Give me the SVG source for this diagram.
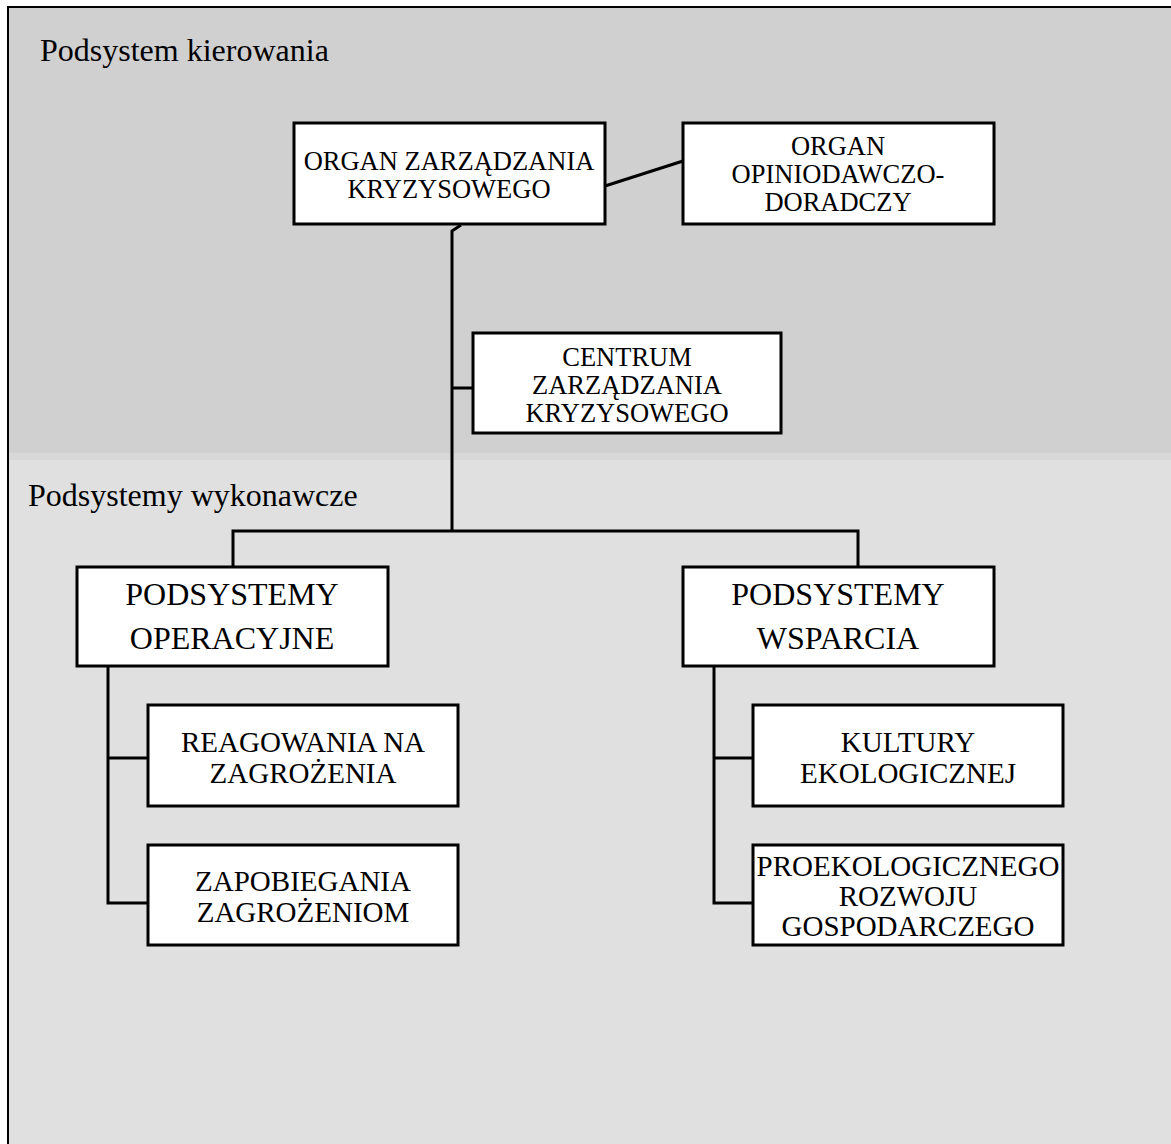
<svg xmlns="http://www.w3.org/2000/svg" width="1171" height="1144" viewBox="0 0 1171 1144">
  <style>
    .box { fill: #ffffff; stroke: #000000; stroke-width: 3; }
    .wire { fill: none; stroke: #000000; stroke-width: 3; }
    .lbl { font-family: "Liberation Serif", "Times New Roman", serif; fill: #000000; text-anchor: middle; }
    .s { font-size: 26.5px; }
    .m { font-size: 29px; }
    .l { font-size: 32px; }
    .sect { font-family: "Liberation Serif", "Times New Roman", serif; font-size: 32px; fill: #000000; }
  </style>

  <!-- background panels -->
  <rect x="0" y="0" width="1171" height="1144" fill="#ffffff"/>
  <rect x="8" y="7" width="1163" height="446" fill="#d0d0d0"/>
  <rect x="8" y="453" width="1163" height="7" fill="#d8d8d8"/>
  <rect x="8" y="460" width="1163" height="684" fill="#e0e0e0"/>
  <line x1="7" y1="7" x2="1171" y2="7" stroke="#000" stroke-width="2"/>
  <line x1="8" y1="6" x2="8" y2="1144" stroke="#000" stroke-width="2"/>

  <text class="sect" x="40" y="61">Podsystem kierowania</text>
  <text class="sect" x="28" y="506">Podsystemy wykonawcze</text>

  <!-- connectors -->
  <g id="connectors">
    <line class="wire" x1="605" y1="186" x2="683" y2="161"/>
    <polyline class="wire" points="452,531 452,231 461,225"/>
    <line class="wire" x1="452" y1="388" x2="473" y2="388"/>
    <polyline class="wire" points="233,567 233,531 858,531 858,567"/>
    <polyline class="wire" points="108,666 108,903 148,903"/>
    <line class="wire" x1="108" y1="758" x2="148" y2="758"/>
    <polyline class="wire" points="714,666 714,903 753,903"/>
    <line class="wire" x1="714" y1="758" x2="753" y2="758"/>
  </g>

  <g id="organ-zarzadzania">
    <rect class="box" x="294" y="123" width="311" height="101"/>
    <text class="lbl s" x="449" y="170">ORGAN ZARZĄDZANIA</text>
    <text class="lbl s" x="449" y="198">KRYZYSOWEGO</text>
  </g>

  <g id="organ-opiniodawczo">
    <rect class="box" x="683" y="123" width="311" height="101"/>
    <text class="lbl s" x="838" y="155">ORGAN</text>
    <text class="lbl s" x="838" y="183">OPINIODAWCZO-</text>
    <text class="lbl s" x="838" y="211">DORADCZY</text>
  </g>

  <g id="centrum">
    <rect class="box" x="473" y="333" width="308" height="100"/>
    <text class="lbl s" x="627" y="366">CENTRUM</text>
    <text class="lbl s" x="627" y="394">ZARZĄDZANIA</text>
    <text class="lbl s" x="627" y="422">KRYZYSOWEGO</text>
  </g>

  <g id="podsystemy-operacyjne">
    <rect class="box" x="77" y="567" width="311" height="99"/>
    <text class="lbl l" x="232" y="605">PODSYSTEMY</text>
    <text class="lbl l" x="232" y="649">OPERACYJNE</text>
  </g>

  <g id="podsystemy-wsparcia">
    <rect class="box" x="683" y="567" width="311" height="99"/>
    <text class="lbl l" x="838" y="605">PODSYSTEMY</text>
    <text class="lbl l" x="838" y="649">WSPARCIA</text>
  </g>

  <g id="reagowania">
    <rect class="box" x="148" y="705" width="310" height="101"/>
    <text class="lbl m" x="303" y="752">REAGOWANIA NA</text>
    <text class="lbl m" x="303" y="783">ZAGROŻENIA</text>
  </g>

  <g id="zapobiegania">
    <rect class="box" x="148" y="845" width="310" height="100"/>
    <text class="lbl m" x="303" y="891">ZAPOBIEGANIA</text>
    <text class="lbl m" x="303" y="922">ZAGROŻENIOM</text>
  </g>

  <g id="kultury">
    <rect class="box" x="753" y="705" width="310" height="101"/>
    <text class="lbl m" x="908" y="752">KULTURY</text>
    <text class="lbl m" x="908" y="783">EKOLOGICZNEJ</text>
  </g>

  <g id="proekologicznego">
    <rect class="box" x="753" y="845" width="310" height="100"/>
    <text class="lbl m" x="908" y="876">PROEKOLOGICZNEGO</text>
    <text class="lbl m" x="908" y="906">ROZWOJU</text>
    <text class="lbl m" x="908" y="936">GOSPODARCZEGO</text>
  </g>
</svg>
